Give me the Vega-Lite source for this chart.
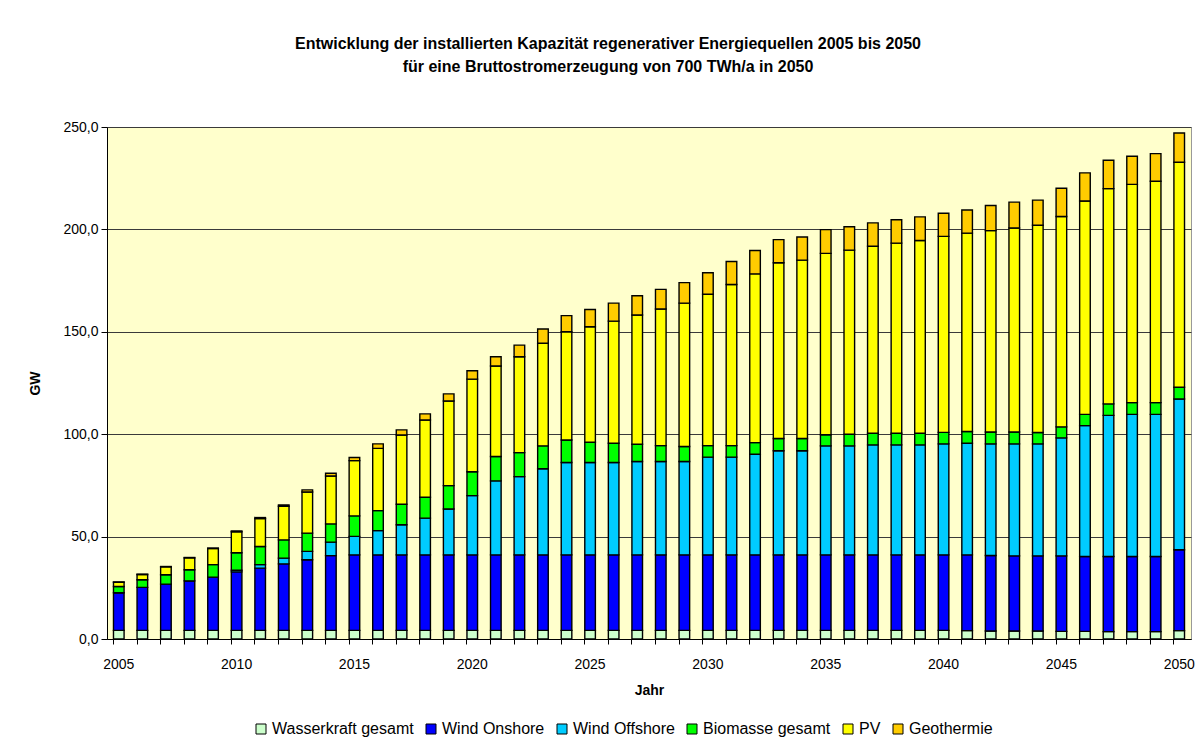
{
  "$schema": "https://vega.github.io/schema/vega-lite/v6.json",
  "width": 1084,
  "height": 512,
  "autosize": {"type": "none"},
  "padding": {"left": 107, "top": 127, "right": 11, "bottom": 105},
  "background": "white",
  "title": {
    "text": ["Entwicklung der installierten Kapazität regenerativer Energiequellen 2005 bis 2050", "für eine Bruttostromerzeugung von 700 TWh/a in 2050"],
    "fontSize": 16,
    "fontWeight": "bold",
    "font": "Liberation Sans",
    "color": "black",
    "anchor": "middle",
    "frame": "group",
    "dx": -41,
    "lineHeight": 23,
    "offset": 45
  },
  "data": {
    "values": [
      {"Jahr": 2005, "Wasserkraft gesamt": 4.2, "Wind Onshore": 18.4, "Wind Offshore": 0, "Biomasse gesamt": 3.0, "PV": 2.1, "Geothermie": 0.2},
      {"Jahr": 2006, "Wasserkraft gesamt": 4.2, "Wind Onshore": 21.0, "Wind Offshore": 0, "Biomasse gesamt": 3.7, "PV": 2.6, "Geothermie": 0.2},
      {"Jahr": 2007, "Wasserkraft gesamt": 4.2, "Wind Onshore": 22.6, "Wind Offshore": 0, "Biomasse gesamt": 4.6, "PV": 3.8, "Geothermie": 0.2},
      {"Jahr": 2008, "Wasserkraft gesamt": 4.2, "Wind Onshore": 24.2, "Wind Offshore": 0, "Biomasse gesamt": 5.4, "PV": 5.8, "Geothermie": 0.2},
      {"Jahr": 2009, "Wasserkraft gesamt": 4.2, "Wind Onshore": 26.0, "Wind Offshore": 0, "Biomasse gesamt": 6.1, "PV": 7.9, "Geothermie": 0.2},
      {"Jahr": 2010, "Wasserkraft gesamt": 4.2, "Wind Onshore": 28.6, "Wind Offshore": 0.8, "Biomasse gesamt": 8.5, "PV": 10.3, "Geothermie": 0.4},
      {"Jahr": 2011, "Wasserkraft gesamt": 4.2, "Wind Onshore": 30.4, "Wind Offshore": 1.7, "Biomasse gesamt": 8.9, "PV": 13.6, "Geothermie": 0.5},
      {"Jahr": 2012, "Wasserkraft gesamt": 4.2, "Wind Onshore": 32.5, "Wind Offshore": 2.8, "Biomasse gesamt": 8.9, "PV": 16.4, "Geothermie": 0.7},
      {"Jahr": 2013, "Wasserkraft gesamt": 4.2, "Wind Onshore": 34.5, "Wind Offshore": 4.1, "Biomasse gesamt": 8.9, "PV": 20.1, "Geothermie": 1.0},
      {"Jahr": 2014, "Wasserkraft gesamt": 4.2, "Wind Onshore": 36.5, "Wind Offshore": 6.6, "Biomasse gesamt": 8.9, "PV": 23.4, "Geothermie": 1.3},
      {"Jahr": 2015, "Wasserkraft gesamt": 4.2, "Wind Onshore": 36.9, "Wind Offshore": 9.0, "Biomasse gesamt": 10.0, "PV": 27.0, "Geothermie": 1.5},
      {"Jahr": 2016, "Wasserkraft gesamt": 4.2, "Wind Onshore": 36.9, "Wind Offshore": 11.8, "Biomasse gesamt": 9.8, "PV": 30.4, "Geothermie": 2.2},
      {"Jahr": 2017, "Wasserkraft gesamt": 4.2, "Wind Onshore": 36.9, "Wind Offshore": 14.7, "Biomasse gesamt": 10.0, "PV": 33.8, "Geothermie": 2.5},
      {"Jahr": 2018, "Wasserkraft gesamt": 4.2, "Wind Onshore": 36.9, "Wind Offshore": 17.9, "Biomasse gesamt": 10.2, "PV": 37.7, "Geothermie": 3.0},
      {"Jahr": 2019, "Wasserkraft gesamt": 4.2, "Wind Onshore": 36.9, "Wind Offshore": 22.4, "Biomasse gesamt": 11.4, "PV": 41.3, "Geothermie": 3.5},
      {"Jahr": 2020, "Wasserkraft gesamt": 4.2, "Wind Onshore": 36.9, "Wind Offshore": 28.9, "Biomasse gesamt": 11.7, "PV": 45.2, "Geothermie": 4.1},
      {"Jahr": 2021, "Wasserkraft gesamt": 4.2, "Wind Onshore": 36.9, "Wind Offshore": 36.1, "Biomasse gesamt": 11.9, "PV": 44.2, "Geothermie": 4.5},
      {"Jahr": 2022, "Wasserkraft gesamt": 4.2, "Wind Onshore": 36.9, "Wind Offshore": 38.2, "Biomasse gesamt": 11.7, "PV": 46.8, "Geothermie": 5.7},
      {"Jahr": 2023, "Wasserkraft gesamt": 4.2, "Wind Onshore": 36.9, "Wind Offshore": 42.0, "Biomasse gesamt": 11.2, "PV": 50.1, "Geothermie": 7.0},
      {"Jahr": 2024, "Wasserkraft gesamt": 4.2, "Wind Onshore": 36.9, "Wind Offshore": 45.1, "Biomasse gesamt": 11.0, "PV": 52.8, "Geothermie": 7.9},
      {"Jahr": 2025, "Wasserkraft gesamt": 4.2, "Wind Onshore": 36.9, "Wind Offshore": 45.1, "Biomasse gesamt": 9.9, "PV": 56.4, "Geothermie": 8.4},
      {"Jahr": 2026, "Wasserkraft gesamt": 4.2, "Wind Onshore": 36.9, "Wind Offshore": 45.1, "Biomasse gesamt": 9.4, "PV": 59.6, "Geothermie": 8.8},
      {"Jahr": 2027, "Wasserkraft gesamt": 4.2, "Wind Onshore": 36.9, "Wind Offshore": 45.6, "Biomasse gesamt": 8.4, "PV": 63.1, "Geothermie": 9.4},
      {"Jahr": 2028, "Wasserkraft gesamt": 4.2, "Wind Onshore": 36.9, "Wind Offshore": 45.6, "Biomasse gesamt": 7.7, "PV": 66.7, "Geothermie": 9.6},
      {"Jahr": 2029, "Wasserkraft gesamt": 4.2, "Wind Onshore": 36.9, "Wind Offshore": 45.6, "Biomasse gesamt": 7.3, "PV": 70.0, "Geothermie": 10.0},
      {"Jahr": 2030, "Wasserkraft gesamt": 4.2, "Wind Onshore": 36.9, "Wind Offshore": 47.7, "Biomasse gesamt": 5.6, "PV": 73.9, "Geothermie": 10.5},
      {"Jahr": 2031, "Wasserkraft gesamt": 4.2, "Wind Onshore": 36.9, "Wind Offshore": 47.7, "Biomasse gesamt": 5.6, "PV": 78.7, "Geothermie": 11.2},
      {"Jahr": 2032, "Wasserkraft gesamt": 4.2, "Wind Onshore": 36.9, "Wind Offshore": 49.1, "Biomasse gesamt": 5.7, "PV": 82.4, "Geothermie": 11.4},
      {"Jahr": 2033, "Wasserkraft gesamt": 4.2, "Wind Onshore": 36.9, "Wind Offshore": 50.8, "Biomasse gesamt": 6.0, "PV": 85.8, "Geothermie": 11.3},
      {"Jahr": 2034, "Wasserkraft gesamt": 4.2, "Wind Onshore": 36.9, "Wind Offshore": 50.8, "Biomasse gesamt": 6.0, "PV": 87.1, "Geothermie": 11.3},
      {"Jahr": 2035, "Wasserkraft gesamt": 4.2, "Wind Onshore": 36.9, "Wind Offshore": 53.2, "Biomasse gesamt": 5.4, "PV": 88.6, "Geothermie": 11.6},
      {"Jahr": 2036, "Wasserkraft gesamt": 4.2, "Wind Onshore": 36.9, "Wind Offshore": 53.2, "Biomasse gesamt": 5.7, "PV": 89.9, "Geothermie": 11.4},
      {"Jahr": 2037, "Wasserkraft gesamt": 4.2, "Wind Onshore": 36.9, "Wind Offshore": 53.7, "Biomasse gesamt": 5.7, "PV": 91.3, "Geothermie": 11.4},
      {"Jahr": 2038, "Wasserkraft gesamt": 4.2, "Wind Onshore": 36.9, "Wind Offshore": 53.7, "Biomasse gesamt": 5.7, "PV": 92.8, "Geothermie": 11.4},
      {"Jahr": 2039, "Wasserkraft gesamt": 4.2, "Wind Onshore": 36.9, "Wind Offshore": 53.7, "Biomasse gesamt": 5.7, "PV": 94.1, "Geothermie": 11.5},
      {"Jahr": 2040, "Wasserkraft gesamt": 4.2, "Wind Onshore": 36.9, "Wind Offshore": 54.2, "Biomasse gesamt": 5.6, "PV": 95.7, "Geothermie": 11.3},
      {"Jahr": 2041, "Wasserkraft gesamt": 4.1, "Wind Onshore": 37.0, "Wind Offshore": 54.5, "Biomasse gesamt": 5.7, "PV": 96.9, "Geothermie": 11.3},
      {"Jahr": 2042, "Wasserkraft gesamt": 3.9, "Wind Onshore": 36.9, "Wind Offshore": 54.5, "Biomasse gesamt": 5.8, "PV": 98.3, "Geothermie": 12.3},
      {"Jahr": 2043, "Wasserkraft gesamt": 3.9, "Wind Onshore": 36.7, "Wind Offshore": 54.7, "Biomasse gesamt": 5.8, "PV": 99.6, "Geothermie": 12.6},
      {"Jahr": 2044, "Wasserkraft gesamt": 3.9, "Wind Onshore": 36.7, "Wind Offshore": 54.7, "Biomasse gesamt": 5.5, "PV": 101.2, "Geothermie": 12.3},
      {"Jahr": 2045, "Wasserkraft gesamt": 3.7, "Wind Onshore": 36.9, "Wind Offshore": 57.6, "Biomasse gesamt": 5.4, "PV": 102.7, "Geothermie": 13.8},
      {"Jahr": 2046, "Wasserkraft gesamt": 3.7, "Wind Onshore": 36.6, "Wind Offshore": 63.9, "Biomasse gesamt": 5.5, "PV": 104.2, "Geothermie": 13.7},
      {"Jahr": 2047, "Wasserkraft gesamt": 3.6, "Wind Onshore": 36.7, "Wind Offshore": 68.9, "Biomasse gesamt": 5.6, "PV": 105.1, "Geothermie": 13.9},
      {"Jahr": 2048, "Wasserkraft gesamt": 3.6, "Wind Onshore": 36.7, "Wind Offshore": 69.4, "Biomasse gesamt": 5.7, "PV": 106.6, "Geothermie": 13.7},
      {"Jahr": 2049, "Wasserkraft gesamt": 3.6, "Wind Onshore": 36.7, "Wind Offshore": 69.4, "Biomasse gesamt": 5.7, "PV": 108.1, "Geothermie": 13.5},
      {"Jahr": 2050, "Wasserkraft gesamt": 4.1, "Wind Onshore": 39.5, "Wind Offshore": 73.6, "Biomasse gesamt": 5.7, "PV": 109.9, "Geothermie": 14.3}
    ]
  },
  "transform": [
    {"fold": ["Wasserkraft gesamt", "Wind Onshore", "Wind Offshore", "Biomasse gesamt", "PV", "Geothermie"], "as": ["Quelle", "GW"]},
    {"calculate": "indexof(['Wasserkraft gesamt', 'Wind Onshore', 'Wind Offshore', 'Biomasse gesamt', 'PV', 'Geothermie'], datum.Quelle)", "as": "Rang"}
  ],
  "mark": {"type": "bar", "stroke": "black", "strokeWidth": 1.4},
  "encoding": {
    "x": {
      "field": "Jahr",
      "type": "ordinal",
      "scale": {"paddingInner": 0.55, "paddingOuter": 0.275},
      "axis": {
        "title": "Jahr",
        "labelAngle": 0,
        "bandPosition": 0,
        "labelExpr": "datum.value % 5 == 0 ? datum.label : ''",
        "labelFlush": false,
        "labelOverlap": false,
        "tickSize": 5,
        "labelPadding": 13,
        "titlePadding": 12
      }
    },
    "y": {
      "field": "GW",
      "type": "quantitative",
      "stack": "zero",
      "scale": {"domain": [0, 250], "nice": false},
      "axis": {
        "title": "GW",
        "values": [0, 50, 100, 150, 200, 250],
        "format": ".1f",
        "tickSize": 6,
        "labelPadding": 3,
        "titlePadding": 20
      }
    },
    "color": {
      "field": "Quelle",
      "type": "nominal",
      "sort": ["Wasserkraft gesamt", "Wind Onshore", "Wind Offshore", "Biomasse gesamt", "PV", "Geothermie"],
      "scale": {
        "domain": ["Wasserkraft gesamt", "Wind Onshore", "Wind Offshore", "Biomasse gesamt", "PV", "Geothermie"],
        "range": ["#CCFFCC", "#0000FF", "#00CCFF", "#00FF00", "#FFFF00", "#FFCC00"]
      },
      "legend": {
        "title": null,
        "orient": "none",
        "direction": "horizontal",
        "columns": 6,
        "legendX": 146,
        "legendY": 594,
        "symbolType": "square",
        "symbolSize": 100,
        "symbolStrokeColor": "black",
        "symbolStrokeWidth": 1,
        "symbolOpacity": 1,
        "labelFontSize": 16,
        "labelFont": "Liberation Sans",
        "labelColor": "black",
        "columnPadding": 9,
        "labelOffset": 3
      }
    },
    "order": {"field": "Rang", "type": "quantitative", "sort": "ascending"}
  },
  "config": {
    "locale": {"number": {"decimal": ",", "thousands": ".", "grouping": [3], "currency": ["", " €"]}},
    "view": {"fill": "#FFFFCC", "stroke": "#999999", "strokeWidth": 1},
    "axis": {
      "labelFont": "Liberation Sans",
      "labelFontSize": 14,
      "labelColor": "black",
      "titleFont": "Liberation Sans",
      "titleFontSize": 14,
      "titleFontWeight": "bold",
      "titleColor": "black",
      "domainColor": "black",
      "tickColor": "black",
      "domainWidth": 1,
      "tickWidth": 1
    },
    "axisY": {"gridColor": "#3a3a3a", "gridWidth": 1, "gridOpacity": 1},
    "axisX": {"grid": false}
  }
}
